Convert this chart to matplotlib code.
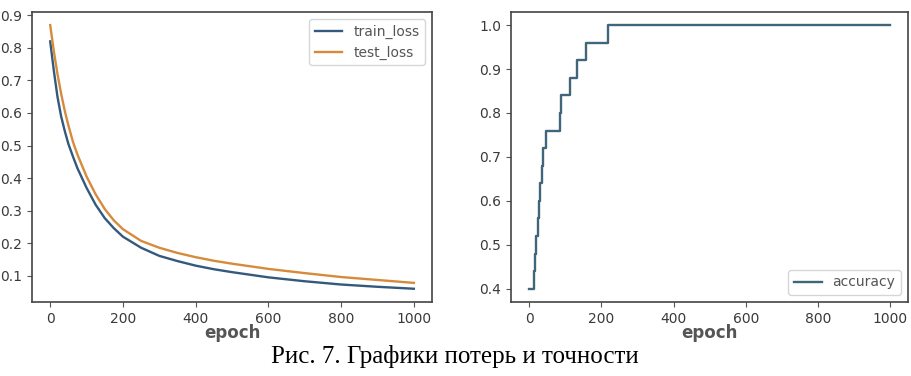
import matplotlib
matplotlib.use("Agg")
import matplotlib.pyplot as plt

# loss curves
loss_epochs = [0, 10, 20, 30, 40, 50, 63, 75, 100, 125, 150, 175, 200, 250, 300, 350, 400, 450, 500, 600, 700, 800, 900, 1000]
train_loss = [0.82, 0.73, 0.65, 0.59, 0.545, 0.505, 0.465, 0.43, 0.37, 0.318, 0.277, 0.246, 0.22, 0.186, 0.161, 0.145, 0.131, 0.12, 0.111, 0.095, 0.083, 0.073, 0.066, 0.06]
test_loss = [0.87, 0.79, 0.72, 0.66, 0.607, 0.562, 0.51, 0.472, 0.405, 0.35, 0.305, 0.27, 0.243, 0.207, 0.186, 0.17, 0.157, 0.146, 0.137, 0.121, 0.108, 0.096, 0.087, 0.078]

# accuracy changes (step values, epoch where each starts)
acc_epochs = [0, 14, 16, 18, 25, 28, 30, 36, 40, 46, 86, 89, 112, 133, 157, 219, 999]
accuracy = [0.40, 0.44, 0.48, 0.52, 0.56, 0.60, 0.64, 0.68, 0.72, 0.76, 0.80, 0.84, 0.88, 0.92, 0.96, 1.00, 1.00]

train_color = "#33597d"
test_color = "#d68b3c"
acc_color = "#41667c"
grey = "#555555"

fig = plt.figure(figsize=(9.12, 3.76), dpi=100)
ax1 = fig.add_axes([0.0351, 0.197, 0.4386, 0.7713])
ax2 = fig.add_axes([0.5603, 0.197, 0.4353, 0.7713])

ax1.plot(loss_epochs, train_loss, color=train_color, lw=1.7, label="train_loss")
ax1.plot(loss_epochs, test_loss, color=test_color, lw=1.7, label="test_loss")
ax1.set_yticks([0.1, 0.2, 0.3, 0.4, 0.5, 0.6, 0.7, 0.8, 0.9])
ax1.legend(loc="upper right", fontsize=10, labelcolor=grey)

ax2.plot(acc_epochs, accuracy, color=acc_color, lw=1.7, drawstyle="steps-post", label="accuracy")
ax2.set_yticks([0.4, 0.5, 0.6, 0.7, 0.8, 0.9, 1.0])
ax2.legend(loc="lower right", fontsize=10, labelcolor=grey)

for ax in (ax1, ax2):
    ax.set_xticks([0, 200, 400, 600, 800, 1000])
    ax.set_xlabel("epoch", fontsize=12, fontweight="bold", color=grey, labelpad=-1)
    ax.tick_params(colors=grey, labelsize=10, labelcolor="#3a3a3a")
    for s in ax.spines.values():
        s.set_color("#444444")
        s.set_linewidth(1.2)

fig.text(0.499, 0.052, "Рис. 7. Графики потерь и точности", ha="center", va="center",
         fontsize=18, family="Liberation Serif", color="black")

fig.savefig("out.png", dpi=100)
